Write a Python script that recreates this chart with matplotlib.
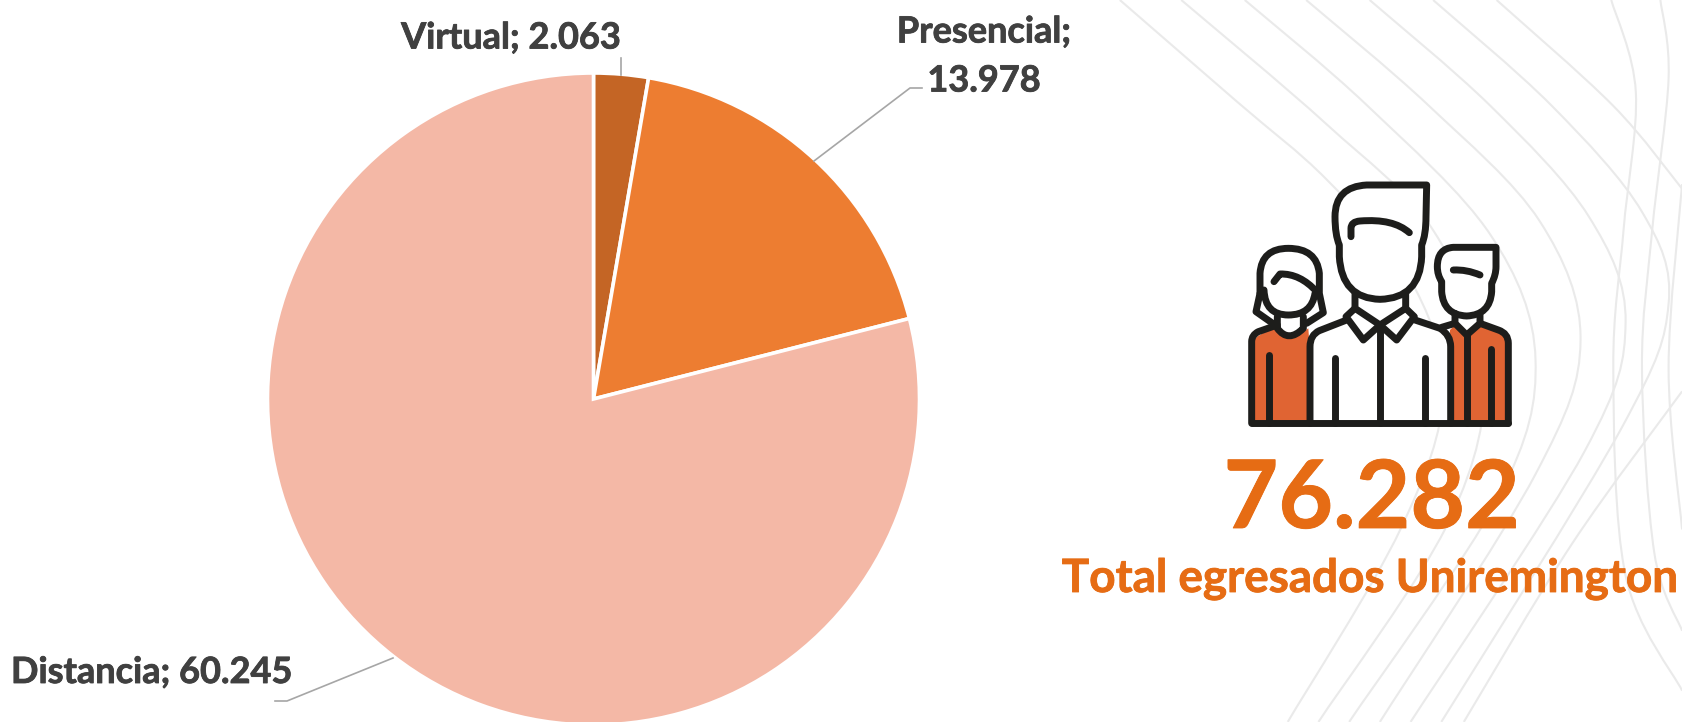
"""
Pie of Uniremington graduates by modality, with the people icon and total
"""

import matplotlib
matplotlib.use('Agg')
import matplotlib.pyplot as plt
import matplotlib.patches as patches
import matplotlib.patheffects as pe
from matplotlib.path import Path

# Data
modalities = ['Virtual', 'Presencial', 'Distancia']
graduates = [2063, 13978, 60245]
slice_colors = ['#C46525', '#ED7D31', '#F4B8A6']
total_graduates = 76282
total_label = 'Total egresados Uniremington'

W, H = 1682, 722
FONT = 'Lato'
TEXT_GREY = '#404040'
TEXT_ORANGE = '#E66C14'
LEADER = '#A6A6A6'
BG_LINE = '#EAEAEA'
ICON_DARK = '#1D1D1B'
ICON_FILL = '#E06433'


def fmt(n):
    return f'{n:,}'.replace(',', '.')


def flip(y):
    return H - y


def bg_xy(zx, zy):
    # background curves were traced on a crop of the right side
    return 1040 + zx / 2.442, flip(zy / 2.172)


def icon_xy(zx, zy):
    # icon was traced on a 3x crop
    return 1200 + zx / 3, flip(160 + zy / 3)


def smooth_path(points):
    """Catmull-Rom through the points, as bezier segments"""
    verts = [points[0]]
    codes = [Path.MOVETO]
    for i in range(len(points) - 1):
        p0 = points[max(i - 1, 0)]
        p1 = points[i]
        p2 = points[i + 1]
        p3 = points[min(i + 2, len(points) - 1)]
        c1 = (p1[0] + (p2[0] - p0[0]) / 6, p1[1] + (p2[1] - p0[1]) / 6)
        c2 = (p2[0] - (p3[0] - p1[0]) / 6, p2[1] - (p3[1] - p1[1]) / 6)
        verts += [c1, c2, p2]
        codes += [Path.CURVE4] * 3
    return Path(verts, codes)


def icon_path(spec):
    """Small path reader: M x y, L x y, Q cx cy x y, Z"""
    tokens = spec.split()
    verts, codes = [], []
    i = 0
    while i < len(tokens):
        cmd = tokens[i]
        if cmd == 'M' or cmd == 'L':
            verts.append(icon_xy(float(tokens[i + 1]), float(tokens[i + 2])))
            codes.append(Path.MOVETO if cmd == 'M' else Path.LINETO)
            i += 3
        elif cmd == 'Q':
            verts.append(icon_xy(float(tokens[i + 1]), float(tokens[i + 2])))
            verts.append(icon_xy(float(tokens[i + 3]), float(tokens[i + 4])))
            codes += [Path.CURVE3, Path.CURVE3]
            i += 5
        else:
            verts.append(verts[-1])
            codes.append(Path.CLOSEPOLY)
            i += 1
    return Path(verts, codes)


fig = plt.figure(figsize=(W / 100, H / 100), dpi=100, facecolor='white')
ax = fig.add_axes([0, 0, 1, 1])

# Background curves
bg_curves = [
    [(195, 0), (480, 220), (700, 390), (900, 600), (985, 850), (880, 1150), (605, 1568)],
    [(345, 0), (700, 270), (960, 500), (1085, 800), (1000, 1130), (680, 1568)],
    [(500, 0), (800, 230), (1100, 510), (1210, 780), (1120, 1080), (755, 1568)],
    [(650, 0), (950, 230), (1220, 480), (1320, 740), (1210, 1030), (830, 1568)],
    [(805, 0), (1100, 230), (1340, 470), (1430, 700), (1330, 980), (905, 1568)],
    [(960, 0), (1250, 230), (1470, 460), (1535, 660), (1420, 930), (980, 1568)],
    [(1115, 0), (1400, 230), (1568, 410)],
    [(1568, 850), (1300, 1180), (1035, 1568)],
    [(1395, 0), (1455, 200), (1425, 500), (1400, 800), (1430, 1250), (1568, 1500)],
    [(1515, 0), (1535, 170), (1495, 500), (1470, 800), (1500, 1200), (1568, 1370)],
    [(1568, 400), (1535, 800), (1568, 1150)],
]
for curve in bg_curves:
    ax.add_patch(patches.PathPatch(smooth_path([bg_xy(x, y) for x, y in curve]),
                                   facecolor='none', edgecolor=BG_LINE, linewidth=1.5, zorder=1))

# Pie
wedges, _ = ax.pie(graduates, colors=slice_colors, startangle=90, counterclock=False,
                   center=(593.5, flip(399)), radius=326, frame=False,
                   wedgeprops=dict(edgecolor='white', linewidth=2.6, zorder=2))
ax.set_xlim(0, W)
ax.set_ylim(0, H)
ax.set_aspect('auto')
ax.axis('off')

# Leader lines
leaders = [
    [(621, 58), (621, 75)],
    [(814, 161), (910, 88), (922, 88)],
    [(393, 658), (287, 701), (275, 701)],
]
for pts in leaders:
    ax.plot([p[0] for p in pts], [flip(p[1]) for p in pts], color=LEADER, linewidth=1.2, zorder=3)

# Labels
grey_bold = [pe.withStroke(linewidth=0.6, foreground=TEXT_GREY)]
orange_bold = [pe.withStroke(linewidth=0.6, foreground=TEXT_ORANGE)]
label_style = dict(fontsize=26, fontweight='bold', family=FONT, color=TEXT_GREY, path_effects=grey_bold)
ax.text(511, flip(35), f'{modalities[0]}; {fmt(graduates[0])}', ha='center', va='center_baseline', **label_style)
ax.text(984, flip(29), f'{modalities[1]};', ha='center', va='center_baseline', **label_style)
ax.text(984, flip(78), fmt(graduates[1]), ha='center', va='center_baseline', **label_style)
ax.text(11, flip(683), f'{modalities[2]}; {fmt(graduates[2])}', ha='left', va='baseline', **label_style)

# Total
ax.text(1372, flip(528), fmt(total_graduates), fontsize=68, fontweight='bold',
        family=FONT, color=TEXT_ORANGE, ha='center', va='baseline', path_effects=orange_bold)
ax.text(1370, flip(592), total_label, fontsize=33, fontweight='bold',
        family=FONT, color=TEXT_ORANGE, ha='center', va='baseline', path_effects=orange_bold)

# Icon: fills first
icon_fills = [
    ('M 160 785 L 160 545 Q 165 525 225 505 Q 265 550 325 505 L 345 785 Z', ICON_FILL),
    ('M 750 510 L 765 495 L 800 530 L 840 495 L 895 510 Q 922 520 922 550 L 922 785 L 750 785 Z', ICON_FILL),
    ('M 330 785 L 330 560 Q 330 525 360 510 L 465 470 L 540 495 L 617 470 L 720 505 Q 752 525 752 560 L 752 785 Z', 'white'),
    ('M 680 75 L 500 75 Q 405 80 405 170 Q 405 225 418 255 L 418 290 Q 425 415 540 418 Q 660 415 665 290 L 665 255 Q 678 225 678 170 Z', 'white'),
    ('M 180 340 Q 185 265 265 265 Q 350 265 358 340 L 358 400 L 370 458 L 310 500 L 232 500 L 168 455 L 180 400 Z', 'white'),
    ('M 888 262 L 760 262 Q 712 265 712 320 Q 712 345 725 365 L 725 395 Q 730 465 765 480 L 800 525 L 840 480 Q 870 465 875 395 L 875 370 Q 888 345 888 320 Z', 'white'),
]
for spec, color in icon_fills:
    ax.add_patch(patches.PathPatch(icon_path(spec), facecolor=color, edgecolor='none', zorder=5))

# Icon: outlines
icon_strokes = [
    # centre man
    'M 680 75 L 500 75 Q 405 80 405 170 Q 405 225 418 255 L 418 290 Q 425 415 540 418 Q 660 415 665 290 L 665 255 Q 678 225 678 170 Z',
    'M 453 230 L 453 205 Q 453 185 480 183 Q 580 175 628 218',
    'M 465 400 L 465 445 L 540 495 L 617 445 L 617 400',
    'M 465 445 L 438 470 L 490 540 L 540 495 L 590 540 L 643 470 L 617 445',
    'M 440 480 L 358 512 Q 330 525 330 560 L 330 790',
    'M 645 480 L 720 505 Q 752 525 752 560 L 752 790',
    'M 540 495 L 540 790',
    'M 404 595 L 404 790',
    'M 676 595 L 676 790',
    # woman
    'M 180 400 L 180 340 Q 185 265 265 265 Q 350 265 358 340 L 358 400 L 370 458 L 320 490',
    'M 180 400 L 168 455 L 225 495',
    'M 192 390 Q 195 465 265 465 Q 335 465 345 400',
    'M 222 365 L 240 342 Q 300 340 350 395',
    'M 232 470 L 232 505 Q 265 550 310 505 L 310 470',
    'M 155 790 L 155 545 Q 155 525 175 515 L 232 495',
    'M 206 585 L 206 790',
    # boy
    'M 888 262 L 760 262 Q 712 265 712 320 Q 712 345 725 365 L 725 395 Q 730 465 800 468 Q 870 465 875 395 L 875 370 Q 888 345 888 320 Z',
    'M 760 330 Q 800 328 840 345',
    'M 765 460 L 765 490 L 800 525 L 840 490 L 840 460',
    'M 800 525 L 800 790',
    'M 840 490 L 895 510 Q 925 520 925 550 L 925 790',
    'M 765 490 L 725 502',
    'M 874 568 L 874 790',
    # base
    'M 155 790 L 925 790',
]
for spec in icon_strokes:
    ax.add_patch(patches.PathPatch(icon_path(spec), facecolor='none', edgecolor=ICON_DARK,
                                   linewidth=5.0, capstyle='round', joinstyle='round', zorder=6))

plt.savefig('out.png', dpi=100, facecolor='white')
plt.close()
